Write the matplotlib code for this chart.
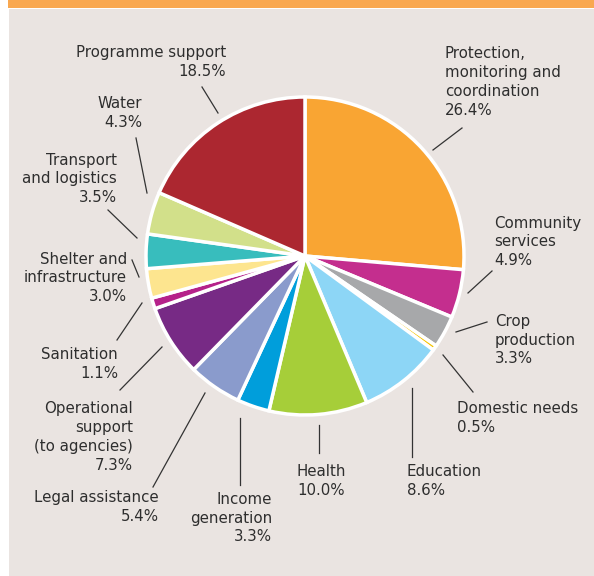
import matplotlib.pyplot as plt
from matplotlib.patches import Rectangle

# shares of the budget, clockwise from 12 o'clock
labels = ["Protection,\nmonitoring and\ncoordination", "Community\nservices",
          "Crop\nproduction", "Domestic needs", "Education", "Health",
          "Income\ngeneration", "Legal assistance",
          "Operational\nsupport\n(to agencies)", "Sanitation",
          "Shelter and\ninfrastructure", "Transport\nand logistics",
          "Water", "Programme support"]
values = [26.4, 4.9, 3.3, 0.5, 8.6, 10.0, 3.3, 5.4, 7.3, 1.1, 3.0, 3.5, 4.3, 18.5]
colors = ["#F9A533", "#C42E8E", "#A7A8AA", "#F5C400", "#8DD6F6", "#A6CE39",
          "#009EDB", "#8A9BCC", "#772A85", "#B5218A", "#FDE58F", "#38BDBD",
          "#D2E08A", "#AC2730"]

W, H = 594, 576
BG = "#EAE4E1"
TXT = "#2E2E2E"

def Y(py):
    return H - py

# label placement in pixels: (x, y of block centre, ha, line start, line end)
layout = [
    (445, 82, "left", (433, 150), (462, 128)),
    (494, 242, "left", (468, 293), (492, 271)),
    (495, 340, "left", (456, 332), (487, 322)),
    (457, 418, "left", (443, 355), (473, 392)),
    (407, 481, "left", (412, 388), (412, 457)),
    (321, 481, "center", (319, 425), (319, 453)),
    (272, 518, "right", (240, 418), (240, 485)),
    (159, 507, "right", (205, 393), (153, 487)),
    (133, 437, "right", (162, 347), (120, 390)),
    (118, 364, "right", (142, 303), (117, 340)),
    (127, 278, "right", (139, 277), (132, 260)),
    (117, 179, "right", (137, 238), (108, 210)),
    (142, 113, "right", (147, 193), (136, 138)),
    (226, 62, "right", (218, 113), (202, 87)),
]

fig = plt.figure(figsize=(W / 100, H / 100), dpi=100)
fig.patch.set_facecolor("white")
ax = fig.add_axes([0, 0, 1, 1])

ax.add_patch(Rectangle((9, 0), W - 9, Y(9), facecolor=BG, edgecolor="none", zorder=0))
ax.add_patch(Rectangle((8, Y(8)), W - 8, 8, facecolor="#F9A850", edgecolor="none", zorder=0))

ax.pie(values, colors=colors, startangle=90, counterclock=False,
       center=(305, Y(256)), radius=159,
       wedgeprops=dict(edgecolor="white", linewidth=2.5))

for lab, val, (x, y, ha, p0, p1) in zip(labels, values, layout):
    ax.text(x, Y(y), f"{lab}\n{val:.1f}%", ha=ha, va="center", multialignment=ha,
            fontsize=10.8, color=TXT, linespacing=1.33, zorder=5)
    ax.plot([p0[0], p1[0]], [Y(p0[1]), Y(p1[1])], color="#333333", lw=0.9, zorder=4)

ax.set_xlim(0, W)
ax.set_ylim(0, H)
ax.set_aspect("equal")
ax.axis("off")

fig.savefig("out.png", dpi=100, facecolor=fig.get_facecolor())
